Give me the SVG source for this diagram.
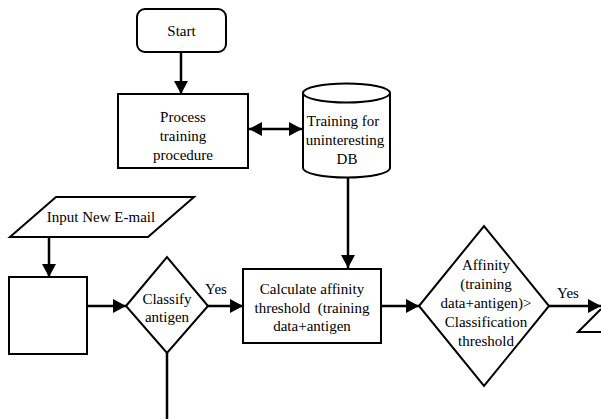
<svg xmlns="http://www.w3.org/2000/svg" width="601" height="419" viewBox="0 0 601 419">
<style>
.s{fill:#fff;stroke:#000;stroke-width:2}
.c{fill:none;stroke:#000;stroke-width:2.5}
</style>
<defs>
<marker id="a" markerUnits="userSpaceOnUse" markerWidth="14" markerHeight="14" refX="13" refY="7" orient="auto-start-reverse" viewBox="0 0 14 14">
<path d="M0,0 L13,7 L0,14 Z" fill="#000"/>
</marker>
</defs>
<rect width="601" height="419" fill="#fff"/>
<g id="start"><rect class="s" x="137" y="9" width="89" height="43" rx="8"/><text font-family="Liberation Serif, serif" font-size="15" text-anchor="middle" x="181.5" y="36">Start</text></g>
<g id="process"><rect class="s" x="118" y="94" width="130" height="74"/><text font-family="Liberation Serif, serif" font-size="15" text-anchor="middle" x="183" y="122">Process</text><text font-family="Liberation Serif, serif" font-size="15" text-anchor="middle" x="183" y="141">training</text><text font-family="Liberation Serif, serif" font-size="15" text-anchor="middle" x="183" y="160">procedure</text></g>
<g id="db"><path class="s" d="M303,93 A43.5,9.5 0 0 1 390,93 L390,168 A43.5,9.5 0 0 1 303,168 Z"/><path class="s" d="M303,93 A43.5,9.5 0 0 0 390,93" fill="none"/><text font-family="Liberation Serif, serif" font-size="15" text-anchor="middle" x="343" y="126">Training for</text><text font-family="Liberation Serif, serif" font-size="15" text-anchor="middle" x="345" y="145">uninteresting</text><text font-family="Liberation Serif, serif" font-size="15" text-anchor="middle" x="347" y="164">DB</text></g>
<g id="input"><path class="s" d="M56,197 L194,197 L148,237 L10,237 Z"/><text font-family="Liberation Serif, serif" font-size="15" text-anchor="middle" x="101" y="222">Input New E-mail</text></g>
<g id="box"><rect class="s" x="9" y="277" width="78" height="77"/></g>
<g id="classify"><path class="s" d="M126,306 L167,257 L208,306 L167,353 Z"/><text font-family="Liberation Serif, serif" font-size="15" text-anchor="middle" x="167" y="304">Classify</text><text font-family="Liberation Serif, serif" font-size="15" text-anchor="middle" x="167" y="322">antigen</text></g>
<g id="calc"><rect class="s" x="243" y="269" width="138" height="74"/><text font-family="Liberation Serif, serif" font-size="15" text-anchor="middle" x="312" y="294">Calculate affinity</text><text font-family="Liberation Serif, serif" font-size="15" text-anchor="middle" x="312" y="313" xml:space="preserve">threshold  (training</text><text font-family="Liberation Serif, serif" font-size="15" text-anchor="middle" x="312" y="331">data+antigen</text></g>
<g id="affinity"><path class="s" d="M419,306 L484,226 L549,306 L484,386 Z"/><text font-family="Liberation Serif, serif" font-size="15" text-anchor="middle" x="486" y="270">Affinity</text><text font-family="Liberation Serif, serif" font-size="15" text-anchor="middle" x="486" y="289">(training</text><text font-family="Liberation Serif, serif" font-size="15" text-anchor="middle" x="486" y="308">data+antigen)&gt;</text><text font-family="Liberation Serif, serif" font-size="15" text-anchor="middle" x="486" y="327">Classification</text><text font-family="Liberation Serif, serif" font-size="15" text-anchor="middle" x="486" y="346">threshold</text></g>
<g id="output"><path class="s" d="M601,332 L578,332 L601,309" fill="none"/></g>
<g id="connectors">
<path class="c" d="M181,52 L181,94" marker-end="url(#a)"/>
<path class="c" d="M249,129 L302,129" marker-start="url(#a)" marker-end="url(#a)"/>
<path class="c" d="M348,178 L348,268" marker-end="url(#a)"/>
<path class="c" d="M49,237 L49,277" marker-end="url(#a)"/>
<path class="c" d="M87,306 L126,306" marker-end="url(#a)"/>
<path class="c" d="M208,306 L243,306" marker-end="url(#a)"/>
<path class="c" d="M167,353 L167,419"/>
<path class="c" d="M381,306 L419,306" marker-end="url(#a)"/>
<path class="c" d="M549,306 L601,306" marker-end="url(#a)"/>
<text font-family="Liberation Serif, serif" font-size="15" text-anchor="middle" x="216" y="294">Yes</text>
<text font-family="Liberation Serif, serif" font-size="15" text-anchor="middle" x="568" y="298">Yes</text>
</g>
</svg>
